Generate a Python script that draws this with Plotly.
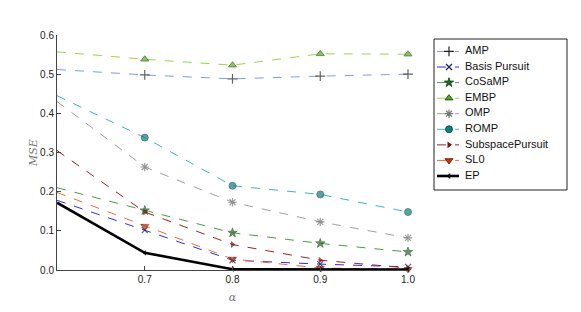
import plotly.graph_objects as go

alpha = [0.6, 0.7, 0.8, 0.9, 1.0]
amp = [0.512, 0.498, 0.488, 0.495, 0.500]
basis_pursuit = [0.178, 0.102, 0.025, 0.015, 0.008]
cosamp = [0.210, 0.152, 0.095, 0.068, 0.046]
embp = [0.557, 0.538, 0.523, 0.552, 0.551]
omp = [0.430, 0.263, 0.173, 0.123, 0.082]
romp = [0.445, 0.338, 0.215, 0.193, 0.148]
subspace = [0.305, 0.148, 0.065, 0.025, 0.005]
sl0 = [0.198, 0.112, 0.028, 0.005, 0.002]
ep = [0.172, 0.044, 0.002, 0.001, 0.001]

names = ["AMP", "Basis Pursuit", "CoSaMP", "EMBP", "OMP", "ROMP",
         "SubspacePursuit", "SL0", "EP"]
values = [amp, basis_pursuit, cosamp, embp, omp, romp, subspace, sl0, ep]

# style: line colour, marker symbol, marker colour, line width, dash, marker size, marker edge
styles = [
    ("#7c9cf0", "cross-thin", "#222222", 1.0, "dash", 7, None),
    ("#2a2af5", "x-thin", "#1a1a60", 1.0, "dash", 6, None),
    ("#44a044", "star", "#1d6b1d", 1.0, "dash", 7, "#0f3f0f"),
    ("#9ad64a", "triangle-up", "#4caf10", 1.0, "dash", 7, "#1a3a00"),
    ("#a0a0a0", "asterisk", "#777777", 1.0, "dash", 7, None),
    ("#3bb8b8", "circle", "#0d8080", 1.0, "dash", 7, "#0a3a3a"),
    ("#a02020", "triangle-right", "#7a1010", 1.0, "dash", 6, None),
    ("#ee6a3a", "triangle-down", "#cc3300", 1.0, "dash", 7, "#5a1500"),
    ("#000000", "triangle-left", "#000000", 2.6, "solid", 5, None),
]


def make_marker(sym, mc, ms, edge, sizes):
    m = dict(symbol=sym, size=sizes, color=mc)
    if sym.endswith("-thin") or sym == "asterisk":
        m["line"] = dict(color=mc, width=1.2)
    elif edge:
        m["line"] = dict(color=edge, width=0.8)
    else:
        m["line"] = dict(width=0)
    return m


fig = go.Figure()
for name, vals, (lc, sym, mc, lw, dash, ms, edge) in zip(names, values, styles):
    fig.add_trace(go.Scatter(
        x=alpha, y=vals, name=name, mode="lines+markers",
        line=dict(color=lc, width=lw, dash=dash),
        marker=make_marker(sym, mc, ms, edge, [0] + [ms] * (len(alpha) - 1)),
        cliponaxis=False, showlegend=False,
    ))

# hand-drawn legend in its own small axes (entries placed by index)
idx = list(range(len(names)))
for i, (name, (lc, sym, mc, lw, dash, ms, edge)) in enumerate(zip(names, styles)):
    fig.add_trace(go.Scatter(
        x=[3, 25], y=[i, i], mode="lines", xaxis="x2", yaxis="y2",
        line=dict(color=lc, width=lw, dash=dash),
        showlegend=False, hoverinfo="skip",
    ))
    fig.add_trace(go.Scatter(
        x=[15], y=[i], mode="markers", xaxis="x2", yaxis="y2",
        marker=make_marker(sym, mc, ms, edge, ms),
        showlegend=False, hoverinfo="skip",
    ))
fig.add_trace(go.Scatter(
    x=[31] * len(names), y=idx, text=names, mode="text", xaxis="x2", yaxis="y2",
    textposition="middle right",
    textfont=dict(family="Liberation Sans, Arial, sans-serif", size=11, color="#111111"),
    showlegend=False, hoverinfo="skip",
))

# the page body adds an 8px offset; margins compensate for it
L, T, R, B = 49, 27, 22, 50
W = 581 - L - R
H = 312 - T - B
fig.update_layout(
    width=581, height=312,
    margin=dict(l=L, r=R, t=T, b=B),
    plot_bgcolor="white", paper_bgcolor="white",
    font=dict(family="Liberation Sans, Arial, sans-serif", size=10, color="#222222"),
    showlegend=False,
    xaxis=dict(
        domain=[0, 351 / W],
        range=[0.6, 1.0], tickvals=[0.7, 0.8, 0.9, 1.0], tickformat=".1f",
        showgrid=False, zeroline=False, showline=True, linecolor="#444444", linewidth=1,
        ticks="inside", ticklen=4, tickcolor="#444444", automargin=False,
        title=dict(text="<i>α</i>", font=dict(family="DejaVu Serif", size=11, color="#777777"), standoff=9),
    ),
    yaxis=dict(
        domain=[0, 1],
        range=[0, 0.6], tickvals=[0, 0.1, 0.2, 0.3, 0.4, 0.5, 0.6], tickformat=".1f",
        showgrid=False, zeroline=False, showline=True, linecolor="#444444", linewidth=1,
        ticks="inside", ticklen=4, tickcolor="#444444", automargin=False,
        title=dict(text="<i>MSE</i>", font=dict(family="DejaVu Serif", size=11, color="#777777"), standoff=0),
    ),
    xaxis2=dict(
        domain=[377 / W, 1.0], range=[0, 133], anchor="y2",
        visible=False, fixedrange=True,
    ),
    yaxis2=dict(
        domain=[80 / H, 231 / H], range=[8.9, -0.8], anchor="x2",
        visible=False, fixedrange=True,
    ),
    shapes=[dict(type="rect", xref="x2 domain", yref="y2 domain", x0=0, x1=1, y0=0, y1=1,
                 line=dict(color="#222222", width=1), fillcolor="rgba(0,0,0,0)", layer="below")],
)

fig.write_html("out.html")
